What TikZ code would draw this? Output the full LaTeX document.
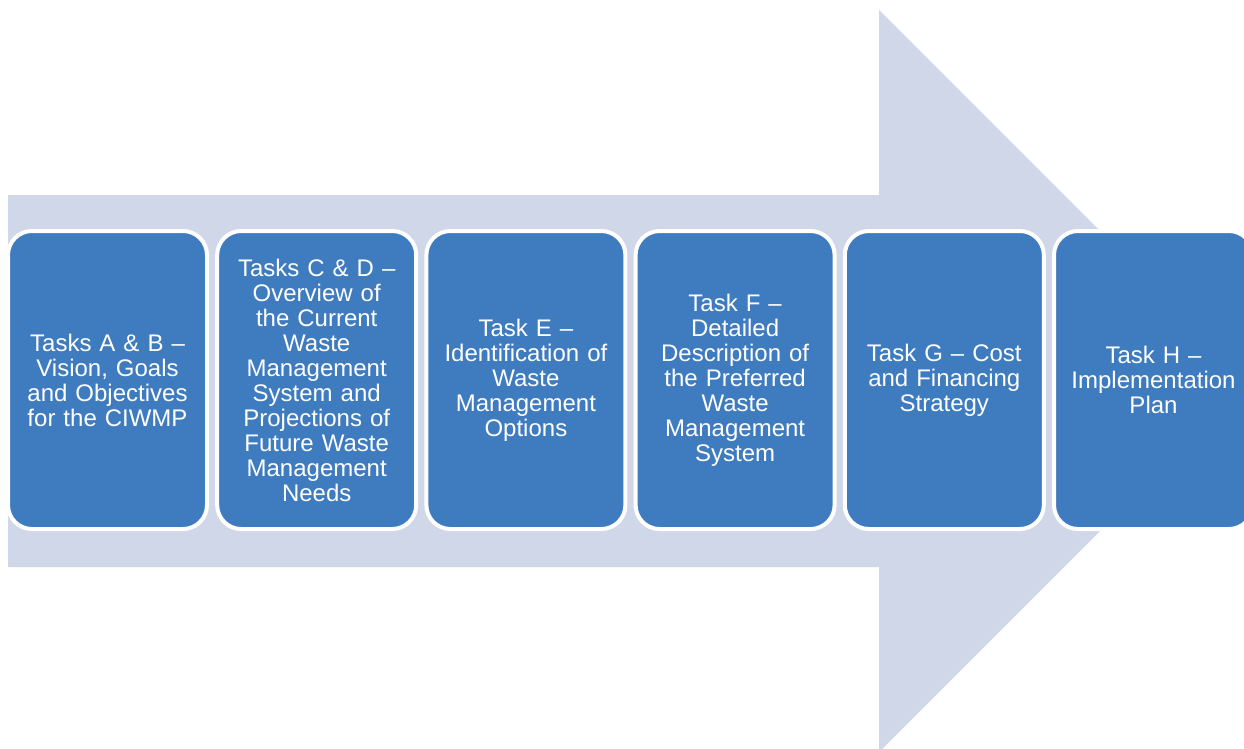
\documentclass[tikz,border=0pt]{standalone}
\usepackage{fontspec}
\setmainfont{Liberation Sans}[WordSpace=0.75]
\definecolor{taskblue}{HTML}{3E7BBF}
\definecolor{arrowgray}{HTML}{CFD7E8}
\begin{document}
\begin{tikzpicture}[x=1pt,y=-1pt,
  taskbox/.style={draw=white, line width=4pt, fill=taskblue, rounded corners=24pt,
    minimum width=199pt, minimum height=298pt, inner sep=0pt, text=white,
    align=center, text width=190pt, font=\fontsize{24}{25}\selectfont}]
\useasboundingbox (0,0) rectangle (1244,748);
\clip (0,0) rectangle (1244,748);
\fill[arrowgray] (8,195) -- (879,195) -- (879,10) -- (1250,381) -- (879,752) -- (879,567) -- (8,567) -- cycle;
\node[taskbox] (a) at (107.5,380) {Tasks A \& B --\\Vision, Goals\\and Objectives\\for the CIWMP};
\node[taskbox] (b) at (316.7,380) {Tasks C \& D --\\Overview of\\the Current\\Waste\\Management\\System and\\Projections of\\Future Waste\\Management\\Needs};
\node[taskbox] (c) at (525.9,380) {Task E --\\Identification of\\Waste\\Management\\Options};
\node[taskbox] (d) at (735.1,380) {Task F --\\Detailed\\Description of\\the Preferred\\Waste\\Management\\System};
\node[taskbox] (e) at (944.3,380) {Task G -- Cost\\and Financing\\Strategy};
\node[taskbox] (f) at (1153.5,380) {Task H --\\Implementation\\Plan};
\end{tikzpicture}
\end{document}
